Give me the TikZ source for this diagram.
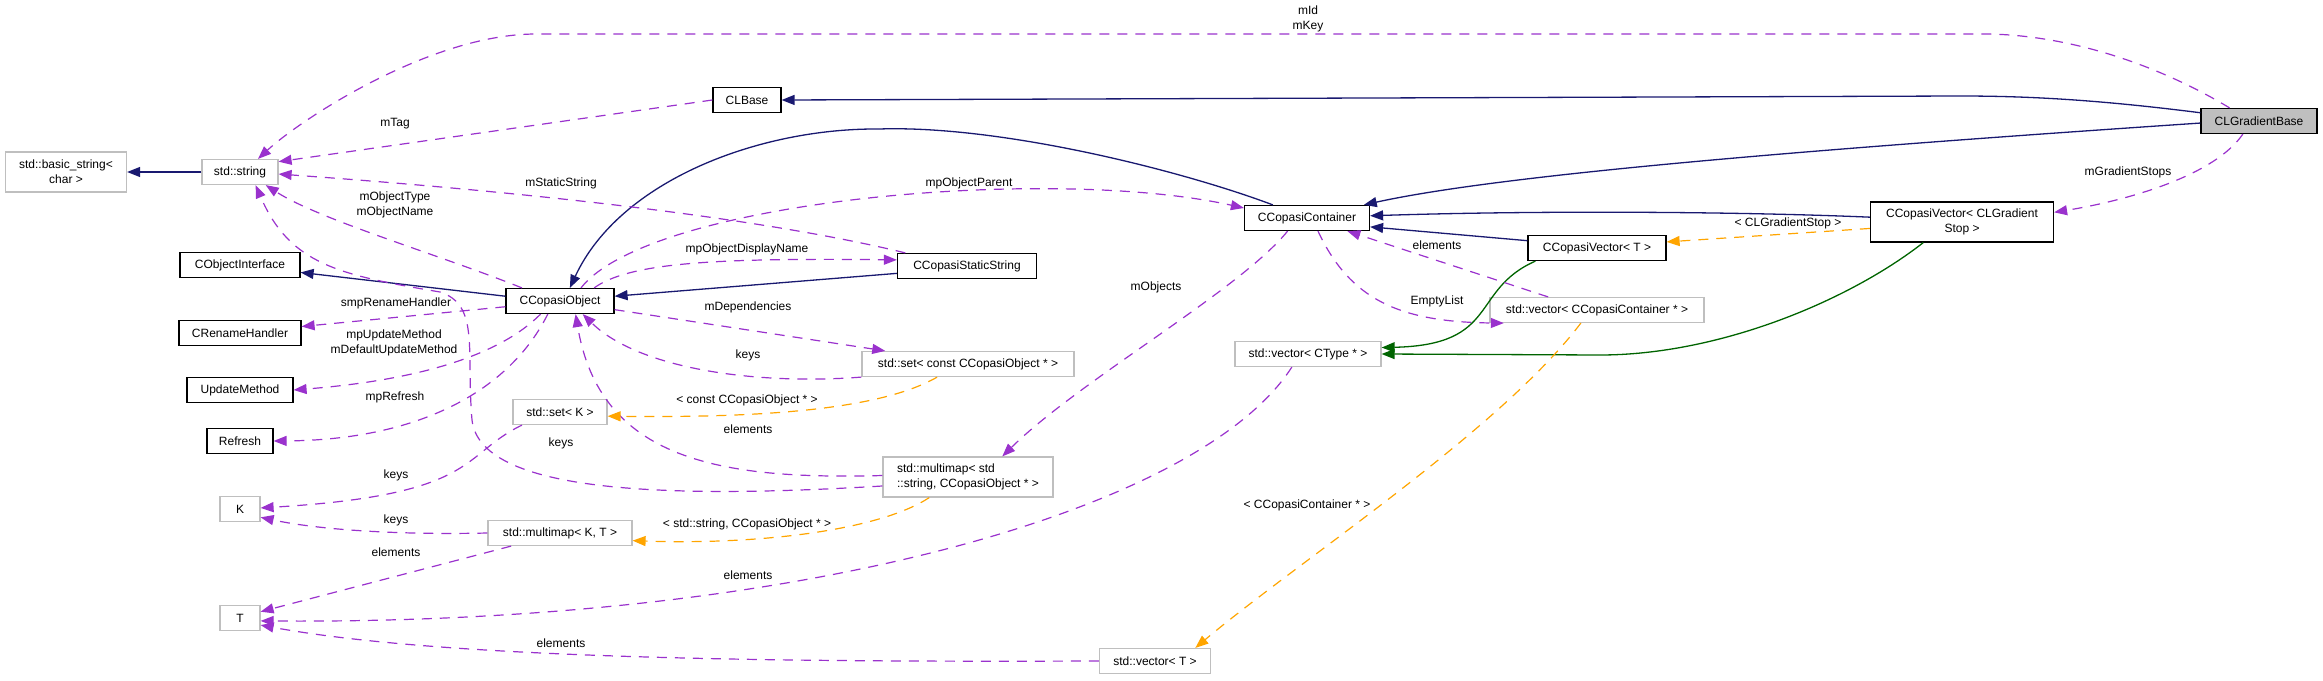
\documentclass[tikz,border=0pt]{standalone}
\usepackage{fontspec}
\setmainfont{Liberation Sans}
\usetikzlibrary{arrows.meta}
\definecolor{dxnavy}{HTML}{191970}
\definecolor{dxpurple}{HTML}{9A32CD}
\definecolor{dxorange}{HTML}{FFA500}
\definecolor{dxgreen}{HTML}{006400}
\definecolor{dxgray}{HTML}{BFBFBF}
\newcommand\dxfont{\fontsize{12}{15}\selectfont}
\tikzset{
  box/.style={rectangle, font=\dxfont, inner xsep=4pt, inner ysep=3pt, minimum height=25pt, line width=1.2pt},
  cls/.style={box, draw=black},
  ext/.style={box, draw=dxgray},
  lbl/.style={font=\dxfont, inner sep=0pt, align=center},
  tip/.style={-{Triangle[length=13pt,width=10pt]}},
  inh/.style={tip, draw=dxnavy, line width=1.3pt},
  prot/.style={tip, draw=dxgreen, line width=1.3pt},
  mem/.style={tip, draw=dxpurple, line width=1.2pt, dash pattern=on 10pt off 8pt},
  tmpl/.style={tip, draw=dxorange, line width=1.2pt, dash pattern=on 10pt off 8pt}
}
\begin{document}
\begin{tikzpicture}[x=1pt,y=-1pt]
  \useasboundingbox (0,0) rectangle (2323,680);
  % classes
  \node[ext, minimum width=121pt, minimum height=40pt, align=center] (basicstr) at (66,172) {std::basic\_string<\\char >};
  \node[ext, minimum width=76pt] (stdstring) at (240,172) {std::string};
  \node[cls, minimum width=68pt] (clbase) at (747,100) {CLBase};
  \node[cls, minimum width=120pt] (cobjint) at (240,265) {CObjectInterface};
  \node[cls, minimum width=108pt] (ccobj) at (560,301) {CCopasiObject};
  \node[cls, minimum width=122pt] (crename) at (240,333) {CRenameHandler};
  \node[cls, minimum width=106pt] (updmeth) at (240,390) {UpdateMethod};
  \node[cls, minimum width=66pt] (refresh) at (240,441) {Refresh};
  \node[ext, minimum width=94pt] (setK) at (560,412) {std::set< K >};
  \node[ext, minimum width=40pt] (Knode) at (240,509) {K};
  \node[ext, minimum width=144pt] (mmapKT) at (560,533) {std::multimap< K, T >};
  \node[ext, minimum width=40pt] (Tnode) at (240,618) {T};
  \node[cls, minimum width=125pt] (ccont) at (1307,218) {CCopasiContainer};
  \node[cls, minimum width=139pt] (ccstatic) at (967,266) {CCopasiStaticString};
  \node[ext, minimum width=212pt] (setcco) at (968,364) {std::set< const CCopasiObject * >};
  \node[ext, minimum width=170pt, minimum height=40pt, align=left] (mmapstr) at (968,477) {std::multimap< std\\::string, CCopasiObject * >};
  \node[ext, minimum width=146pt] (vecctype) at (1308,354) {std::vector< CType * >};
  \node[ext, minimum width=111pt] (vecT) at (1155,661) {std::vector< T >};
  \node[cls, fill=dxgray, minimum width=116pt] (clgrad) at (2259,121) {CLGradientBase};
  \node[cls, minimum width=183pt, minimum height=40pt, align=center] (ccvecgs) at (1962,222) {CCopasiVector< CLGradient\\Stop >};
  \node[cls, minimum width=138pt] (ccvecT) at (1597,248) {CCopasiVector< T >};
  \node[ext, minimum width=214pt] (vecccont) at (1597,310) {std::vector< CCopasiContainer * >};
  % inheritance
  \draw[inh] (stdstring) -- (basicstr);
  \draw[inh] (clgrad.172) .. controls (2100,100) and (2030,96) .. (1960,96) -- (clbase.east);
  \draw[inh] (clgrad.182) .. controls (1800,150) and (1500,175) .. (ccont.13);
  \draw[inh] (ccvecgs.177) .. controls (1750,212) and (1550,210) .. (ccont.2);
  \draw[inh] (ccvecT.174) -- (ccont.-8);
  \draw[inh] (ccont.159) .. controls (1180,170) and (1000,125) .. (879,129) .. controls (760,128) and (620,180) .. (ccobj.53);
  \draw[inh] (ccstatic.186) -- (ccobj.5);
  \draw[inh] (ccobj.175) -- (cobjint.-7);
  \draw[prot] (ccvecgs.208) .. controls (1850,300) and (1720,355) .. (1600,355) -- (vecctype.east);
  \draw[prot] (ccvecT.192) .. controls (1470,290) and (1500,345) .. (vecctype.5);
  % members
  \draw[mem] (clbase.west) -- (stdstring.15);
  \node[lbl] (lTag) at (395,124) {mTag};
  \draw[mem] (clgrad.156) .. controls (2150,60) and (2060,34) .. (1983,34) -- (536,34) .. controls (430,34) and (300,120) .. (stdstring.36);
  \node[lbl] (lId) at (1308,19) {mId\\mKey};
  \draw[mem] (clgrad.219) .. controls (2215,175) and (2130,200) .. (ccvecgs.6);
  \node[lbl] (lStops) at (2128,172) {mGradientStops};
  \draw[mem] (vecccont.165) -- (ccont.-18);
  \node[lbl] (lElemA) at (1437,245) {elements};
  \draw[mem] (ccont.-50) .. controls (1350,300) and (1400,322) .. (vecccont.188);
  \node[lbl] (lEmpty) at (1437,301) {EmptyList};
  \draw[mem] (ccobj.32) .. controls (650,200) and (1050,165) .. (ccont.171);
  \node[lbl] (lParent) at (969,183) {mpObjectParent};
  \draw[mem] (ccont.214) .. controls (1240,290) and (1080,380) .. (mmapstr.31);
  \node[lbl] (lObjects) at (1156,287) {mObjects};
  \draw[mem] (ccobj.21) .. controls (630,262) and (720,258) .. (ccstatic.175);
  \node[lbl] (lDisp) at (747,249) {mpObjectDisplayName};
  \draw[mem] (ccstatic.168) .. controls (750,215) and (500,190) .. (stdstring.-3);
  \node[lbl] (lStatic) at (561,183) {mStaticString};
  \draw[mem] (ccobj.161) .. controls (440,255) and (320,220) .. (stdstring.-27);
  \node[lbl] (lType) at (395,205) {mObjectType\\mObjectName};
  \draw[mem] (ccobj.186) -- (crename.6);
  \node[lbl] (lRename) at (396,303) {smpRenameHandler};
  \draw[mem] (ccobj.214) .. controls (500,355) and (420,380) .. (updmeth.east);
  \node[lbl] (lUpd) at (394,343) {mpUpdateMethod\\mDefaultUpdateMethod};
  \draw[mem] (ccobj.227) .. controls (510,390) and (420,440) .. (refresh.east);
  \node[lbl] (lRefresh) at (395,397) {mpRefresh};
  \draw[mem] (ccobj.-9) -- (setcco.171);
  \node[lbl] (lDeps) at (748,307) {mDependencies};
  \draw[mem] (setcco.187) .. controls (760,385) and (640,370) .. (ccobj.-30);
  \node[lbl] (lKeysA) at (748,355) {keys};
  \draw[mem] (mmapstr.179) .. controls (720,480) and (600,460) .. (ccobj.-40);
  \node[lbl] (lElemB) at (748,429) {elements};
  \draw[mem] (mmapstr.186) .. controls (650,500) and (480,490) .. (472,420) .. controls (466,350) and (480,305) .. (440,292) .. controls (340,275) and (290,265) .. (stdstring.-40);
  \node[lbl] (lKeysB) at (561,443) {keys};
  \draw[mem] (setK.199) .. controls (460,455) and (480,495) .. (Knode.3);
  \node[lbl] (lKeysC) at (396,475) {keys};
  \draw[mem] (mmapKT.west) .. controls (400,535) and (320,530) .. (Knode.-22);
  \node[lbl] (lKeysD) at (396,520) {keys};
  \draw[mem] (mmapKT.195) -- (Tnode.17);
  \node[lbl] (lElemC) at (396,552) {elements};
  \draw[mem] (vecctype.219) .. controls (1200,510) and (800,625) .. (Tnode.-8);
  \node[lbl] (lElemD) at (748,575) {elements};
  \draw[mem] (vecT.west) .. controls (800,662) and (450,660) .. (Tnode.-19);
  \node[lbl] (lElemE) at (561,643) {elements};
  % template instances
  \draw[tmpl] (ccvecgs.184) -- (ccvecT.5);
  \node[lbl] (lGS) at (1788,223) {< CLGradientStop >};
  \draw[tmpl] (vecccont.219) .. controls (1500,430) and (1300,560) .. (vecT.18);
  \node[lbl] (lCont) at (1307,505) {< CCopasiContainer * >};
  \draw[tmpl] (setcco.203) .. controls (880,410) and (760,418) .. (setK.-5);
  \node[lbl] (lConst) at (747,400) {< const CCopasiObject * >};
  \draw[tmpl] (mmapstr.208) .. controls (880,530) and (760,545) .. (mmapKT.-6);
  \node[lbl] (lStr) at (747,524) {< std::string, CCopasiObject * >};
\end{tikzpicture}
\end{document}
